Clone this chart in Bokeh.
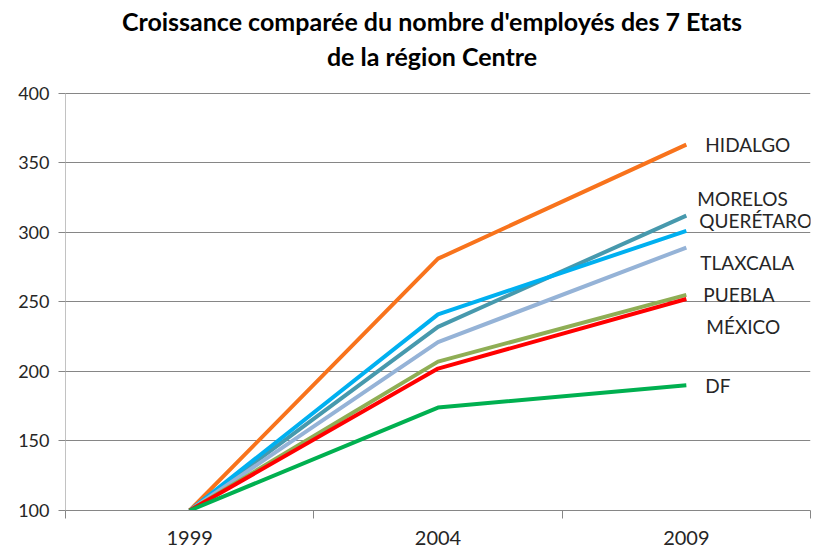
from bokeh.plotting import figure
from bokeh.models import ColumnDataSource, FixedTicker, Label, Range1d
from bokeh.core.properties import value
from bokeh.embed import file_html
from bokeh.resources import INLINE

years = ["1999", "2004", "2009"]
states = ["HIDALGO", "MORELOS", "QUERÉTARO", "TLAXCALA", "PUEBLA", "MÉXICO", "DF"]
hidalgo = [100, 281, 363]
morelos = [100, 232, 312]
queretaro = [100, 241, 301]
tlaxcala = [100, 221, 289]
puebla = [100, 207, 255]
mexico = [100, 202, 252]
df = [100, 174, 190]
series = [hidalgo, morelos, queretaro, tlaxcala, puebla, mexico, df]
colors = ["#F8731C", "#4799AD", "#00B0F0", "#95B3D7", "#8FAE55", "#FF0000", "#00B050"]
y_ticks = [100, 150, 200, 250, 300, 350, 400]
title_line1 = "Croissance comparée du nombre d'employés des 7 Etats"
title_line2 = "de la région Centre"

# label pixel offsets (style)
lbl_dx = [19, 11, 13, 14, 17, 20, 19]
lbl_dy = [0, -17, -10, 15, 0, 27, 0]

FONT = "Lato"
W, H = 813, 547
BL, BR, BB = 65, 3, 35
TOP_SPACE = 93                      # pixels reserved above the 400 line for the title
plot_h = H - BB - TOP_SPACE
y0, y1 = y_ticks[0], y_ticks[-1]
y_end = y1 + TOP_SPACE * (y1 - y0) / plot_h

p = figure(width=W, height=H, output_backend="svg", toolbar_location=None,
           x_range=Range1d(0, len(years)), y_range=Range1d(y0, y_end),
           min_border_left=BL, min_border_right=BR, min_border_top=0, min_border_bottom=BB)
p.outline_line_color = None

xs = [i + 0.5 for i in range(len(years))]
for vals, c in zip(series, colors):
    p.line(xs, vals, line_color=c, line_width=4)

src = ColumnDataSource(dict(x=[xs[-1]] * len(states), y=[s[-1] for s in series],
                            t=states, dx=lbl_dx, dy=lbl_dy))
p.text(x="x", y="y", text="t", x_offset="dx", y_offset="dy", source=src,
       text_font=value(FONT), text_font_size="19px", text_color="#262626",
       text_baseline="middle", text_align="left")

# axes
p.xaxis.ticker = FixedTicker(ticks=xs, minor_ticks=list(range(len(years) + 1)))
p.xaxis.major_label_overrides = {x: y for x, y in zip(xs, years)}
p.xaxis.major_tick_line_color = None
p.xaxis.minor_tick_line_color = "#868686"
p.xaxis.minor_tick_in = 0
p.xaxis.minor_tick_out = 8
p.xaxis.axis_line_color = "#868686"
p.xaxis.major_label_text_font = FONT
p.xaxis.major_label_text_font_size = "20px"
p.xaxis.major_label_text_color = "#262626"
p.xaxis.major_label_standoff = 12

p.yaxis.ticker = FixedTicker(ticks=y_ticks, minor_ticks=[])
p.yaxis.major_tick_line_color = "#868686"
p.yaxis.major_tick_in = 0
p.yaxis.major_tick_out = 7
p.yaxis.axis_line_color = None
p.yaxis.major_label_text_font = FONT
p.yaxis.major_label_text_font_size = "18px"
p.yaxis.major_label_text_color = "#262626"
p.yaxis.major_label_standoff = 9
# visible y axis line only between 100 and 400
p.segment(x0=[0], y0=[y0], x1=[0], y1=[y1], line_color="#868686", line_width=1)

p.xgrid.grid_line_color = None
p.ygrid.grid_line_color = "#868686"
p.ygrid.grid_line_width = 1

p.title = None
frame_h = H - BB
cx = (W - BL - BR) / 2 - 6
for txt, top in [(title_line1, 22), (title_line2, 57)]:
    p.add_layout(Label(x=cx, y=frame_h - top, x_units="screen", y_units="screen", text=txt,
                       text_align="center", text_baseline="middle", text_font=FONT,
                       text_font_size="25px", text_font_style="bold", text_color="#000000"))

open("out.html", "w").write(file_html(p, INLINE))
